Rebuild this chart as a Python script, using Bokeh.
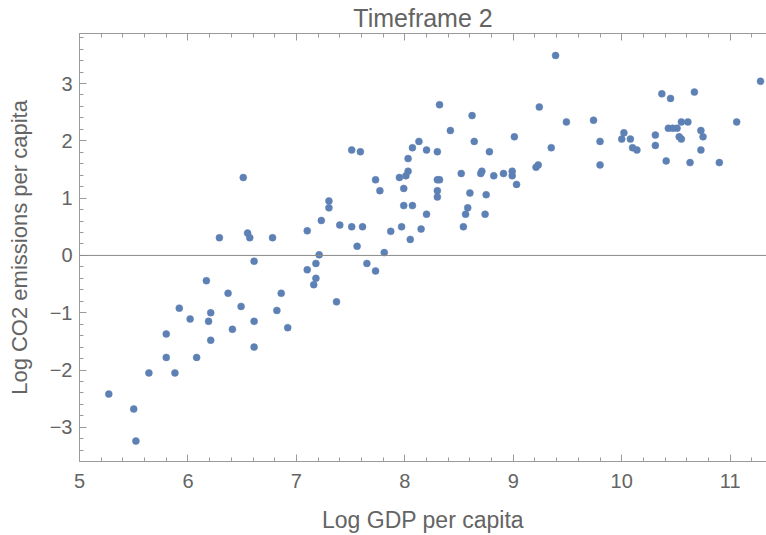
from bokeh.plotting import figure
from bokeh.models import (LinearAxis, SingleIntervalTicker, Span, Range1d,
                          ColumnDataSource, FixedTicker)
from bokeh.embed import file_html
from bokeh.resources import INLINE

# ---- data ----
log_gdp = [
    5.27, 5.50, 5.52, 5.64, 5.80, 5.80, 5.88, 5.92, 6.02, 6.08,
    6.17, 6.19, 6.21, 6.21, 6.29, 6.37, 6.41, 6.49, 6.51, 6.55,
    6.57, 6.61, 6.61, 6.61, 6.78, 6.82, 6.86, 6.92, 7.10, 7.10,
    7.16, 7.18, 7.18, 7.21, 7.23, 7.30, 7.30, 7.37, 7.40, 7.51,
    7.51, 7.56, 7.59, 7.61, 7.65, 7.73, 7.73, 7.77, 7.81, 7.87,
    7.95, 7.97, 7.99, 7.99, 8.01, 8.03, 8.03, 8.05, 8.07, 8.07,
    8.13, 8.15, 8.20, 8.20, 8.30, 8.30, 8.32, 8.30, 8.30, 8.32,
    8.42, 8.52, 8.54, 8.56, 8.58, 8.60, 8.62, 8.64, 8.70, 8.71,
    8.74, 8.75, 8.78, 8.82, 8.91, 8.99, 8.99, 9.01, 9.03, 9.21,
    9.23, 9.24, 9.35, 9.39, 9.49, 9.74, 9.80, 9.80, 10.00, 10.02,
    10.08, 10.10, 10.14, 10.31, 10.31, 10.37, 10.41, 10.43, 10.45, 10.47,
    10.51, 10.53, 10.55, 10.55, 10.61, 10.63, 10.67, 10.73, 10.75, 10.73,
    10.90, 11.06, 11.28,
]
log_co2 = [
    -2.42, -2.68, -3.24, -2.05, -1.37, -1.78, -2.05, -0.92, -1.11, -1.78,
    -0.44, -1.15, -1.00, -1.48, 0.31, -0.66, -1.29, -0.89, 1.36, 0.39,
    0.31, -0.10, -1.15, -1.60, 0.31, -0.96, -0.66, -1.26, 0.43, -0.25,
    -0.51, -0.14, -0.40, 0.01, 0.61, 0.83, 0.95, -0.81, 0.53, 0.50,
    1.84, 0.16, 1.81, 0.50, -0.14, 1.32, -0.27, 1.13, 0.05, 0.42,
    1.36, 0.50, 0.87, 1.17, 1.39, 1.47, 1.69, 0.28, 0.87, 1.88,
    1.99, 0.46, 0.72, 1.84, 1.81, 1.32, 1.32, 1.13, 1.02, 2.63,
    2.18, 1.43, 0.50, 0.72, 0.83, 1.09, 2.44, 1.99, 1.43, 1.47,
    0.72, 1.06, 1.81, 1.39, 1.43, 1.47, 1.39, 2.07, 1.24, 1.54,
    1.58, 2.59, 1.88, 3.49, 2.33, 2.36, 1.99, 1.58, 2.03, 2.14,
    2.03, 1.88, 1.84, 2.10, 1.92, 2.82, 1.65, 2.22, 2.74, 2.22,
    2.22, 2.07, 2.03, 2.33, 2.33, 1.62, 2.85, 2.18, 2.07, 1.84,
    1.62, 2.33, 3.04,
]

title_text = "Timeframe 2"
x_label = "Log GDP per capita"
y_label = "Log CO2 emissions per capita"
x_ticks = [5, 6, 7, 8, 9, 10, 11]
x_tick_labels = ["5", "6", "7", "8", "9", "10", "11"]
y_ticks = [-3, -2, -1, 0, 1, 2, 3]
y_tick_labels = ["\u22123", "\u22122", "\u22121", "0", "1", "2", "3"]

# ---- styles ----
FONT = "Liberation Sans"
TXT = "#646464"
FRAME = "#9a9a9a"
DOT = "#5E81B5"

p = figure(width=766, height=535, output_backend="svg", toolbar_location=None,
           x_range=Range1d(5.0, 11.335), y_range=Range1d(-3.596, 3.873),
           x_axis_location=None, y_axis_location=None,
           min_border_left=79, min_border_right=0, min_border_top=33,
           min_border_bottom=73)
p.outline_line_color = None
p.grid.visible = False
p.background_fill_color = "white"
p.border_fill_color = "white"

p.title.text = title_text
p.title.align = "center"
p.title.vertical_align = "top"
p.title.text_font = FONT
p.title.text_font_size = "25px"
p.title.text_font_style = "normal"
p.title.text_color = TXT
p.title.standoff = 0
p.title.offset = 3


def style_axis(ax, ticks, labels):
    ax.ticker = SingleIntervalTicker(interval=1, num_minor_ticks=5)
    ax.axis_line_color = FRAME
    ax.axis_line_width = 1
    ax.major_tick_line_color = FRAME
    ax.minor_tick_line_color = FRAME
    ax.major_tick_in = 7
    ax.major_tick_out = 0
    ax.minor_tick_in = 4
    ax.minor_tick_out = 0
    ax.major_label_overrides = {t: l for t, l in zip(ticks, labels)}
    ax.major_label_text_font = FONT
    ax.major_label_text_color = TXT
    ax.major_label_text_font_size = "20px"


xb = LinearAxis(axis_label=x_label)
style_axis(xb, x_ticks, x_tick_labels)
xb.major_label_standoff = 12
xb.axis_label_standoff = 16
xb.axis_label_text_font = FONT
xb.axis_label_text_font_size = "23px"
xb.axis_label_text_font_style = "normal"
xb.axis_label_text_color = TXT
p.add_layout(xb, "below")

# top frame: tick marks only (no labels)
x_minor_top = [x_ticks[0] + 0.2 * i for i in range(int((x_ticks[-1] + 1 - x_ticks[0]) / 0.2) + 1)
               if abs((x_ticks[0] + 0.2 * i) - round(x_ticks[0] + 0.2 * i)) > 1e-6]
for positions, length in ((x_minor_top, 4), (x_ticks, 7)):
    ax = LinearAxis(ticker=FixedTicker(ticks=[], minor_ticks=positions))
    ax.axis_line_color = FRAME
    ax.minor_tick_line_color = FRAME
    ax.major_tick_out = 0
    ax.minor_tick_in = length
    ax.minor_tick_out = 0
    ax.major_label_standoff = 0
    p.add_layout(ax, "above")

# invisible spacer between top frame and title
spacer = LinearAxis(ticker=FixedTicker(ticks=[], minor_ticks=[]))
spacer.axis_line_color = None
spacer.major_tick_line_color = None
spacer.minor_tick_line_color = None
spacer.major_tick_in = 0
spacer.major_tick_out = 4
spacer.major_label_standoff = 0
p.add_layout(spacer, "above")

yl = LinearAxis(axis_label=y_label)
style_axis(yl, y_ticks, y_tick_labels)
yl.major_label_standoff = 7
yl.axis_label_standoff = 15
yl.axis_label_text_font = FONT
yl.axis_label_text_font_size = "22px"
yl.axis_label_text_font_style = "normal"
yl.axis_label_text_color = TXT
p.add_layout(yl, "left")

p.add_layout(Span(location=0, dimension="width", line_color="#8a8a8a", line_width=1))

src = ColumnDataSource(data=dict(x=log_gdp, y=log_co2))
p.scatter("x", "y", source=src, size=7, fill_color=DOT, line_color=DOT, line_width=0.5)

open("out.html", "w").write(file_html(p, INLINE))
